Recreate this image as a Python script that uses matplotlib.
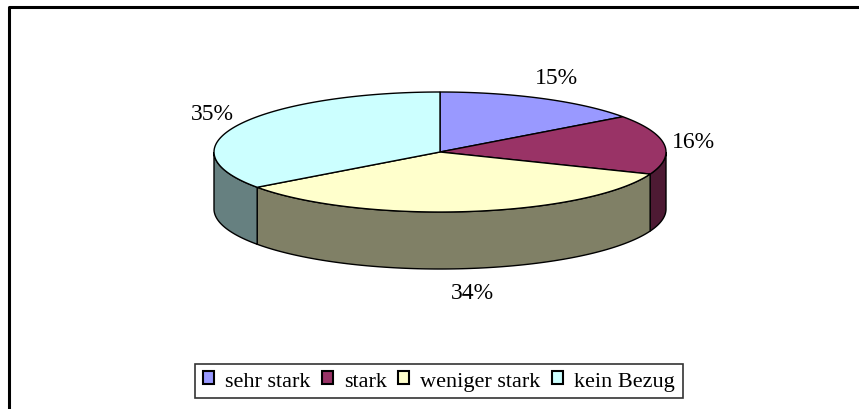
import matplotlib.pyplot as plt
import numpy as np
from matplotlib.patches import Polygon, Patch

labels = ['sehr stark', 'stark', 'weniger stark', 'kein Bezug']
values = [15, 16, 34, 35]
top_colors = ['#9999FF', '#993366', '#FFFFCC', '#CCFFFF']
side_colors = ['#4D4D80', '#4D1A33', '#808066', '#668080']

# pie geometry in pixels
cx, cy = 440, 153
rx, ry = 226, 60
depth = 57


def ellipse_pts(a1, a2, yoff=0, n=120):
    t = np.radians(np.linspace(a1, a2, n))
    return np.column_stack([cx + rx * np.cos(t), cy - ry * np.sin(t) + yoff])


fig = plt.figure(figsize=(8.59, 4.10), dpi=100)
ax = fig.add_axes([0, 0, 1, 1])
ax.set_xlim(0, 859)
ax.set_ylim(410, 0)
ax.axis('off')

# outer chart frame (only top and left edges are in view)
ax.plot([9, 9, 870], [420, 8, 8], color='black', lw=2.2, solid_capstyle='butt')

frac = np.array(values) / sum(values)
cum = np.concatenate([[0], np.cumsum(frac)])
starts = 90 - 360 * cum[:-1]
ends = 90 - 360 * cum[1:]

# side walls (front half only)
for a1, a2, c in zip(starts, ends, side_colors):
    lo, hi = max(a2, -180), min(a1, 0)
    if lo >= hi:
        continue
    top = ellipse_pts(hi, lo)
    bot = ellipse_pts(lo, hi, depth)
    ax.add_patch(Polygon(np.vstack([top, bot]), closed=True, facecolor=c,
                         edgecolor='black', lw=1, zorder=2))

# top faces
for a1, a2, c in zip(starts, ends, top_colors):
    pts = np.vstack([[cx, cy], ellipse_pts(a1, a2)])
    ax.add_patch(Polygon(pts, closed=True, facecolor=c, edgecolor='black',
                         lw=1, zorder=3))

# percentage labels
for a1, a2, v in zip(starts, ends, values):
    m = np.radians((a1 + a2) / 2)
    lx = cx + (rx + 30) * np.cos(m)
    ly = cy - (ry + 24) * np.sin(m)
    if np.sin(m) < 0:
        ly += depth
    ax.text(lx, ly, f'{v}%', ha='center', va='center', fontsize=17,
            family='Liberation Serif', zorder=4)

handles = [Patch(facecolor=c, edgecolor='black', lw=1.5) for c in top_colors]
leg = fig.legend(handles, labels, loc='center', ncol=4,
                 bbox_to_anchor=(439 / 859, 1 - 382 / 410),
                 prop={'family': 'Liberation Serif', 'size': 16},
                 frameon=True, fancybox=False, edgecolor='black',
                 handlelength=0.5, handleheight=0.5, handletextpad=0.5,
                 columnspacing=0.5, borderpad=0.35)
leg.get_frame().set_linewidth(1.2)

fig.savefig('out.png', dpi=100)
